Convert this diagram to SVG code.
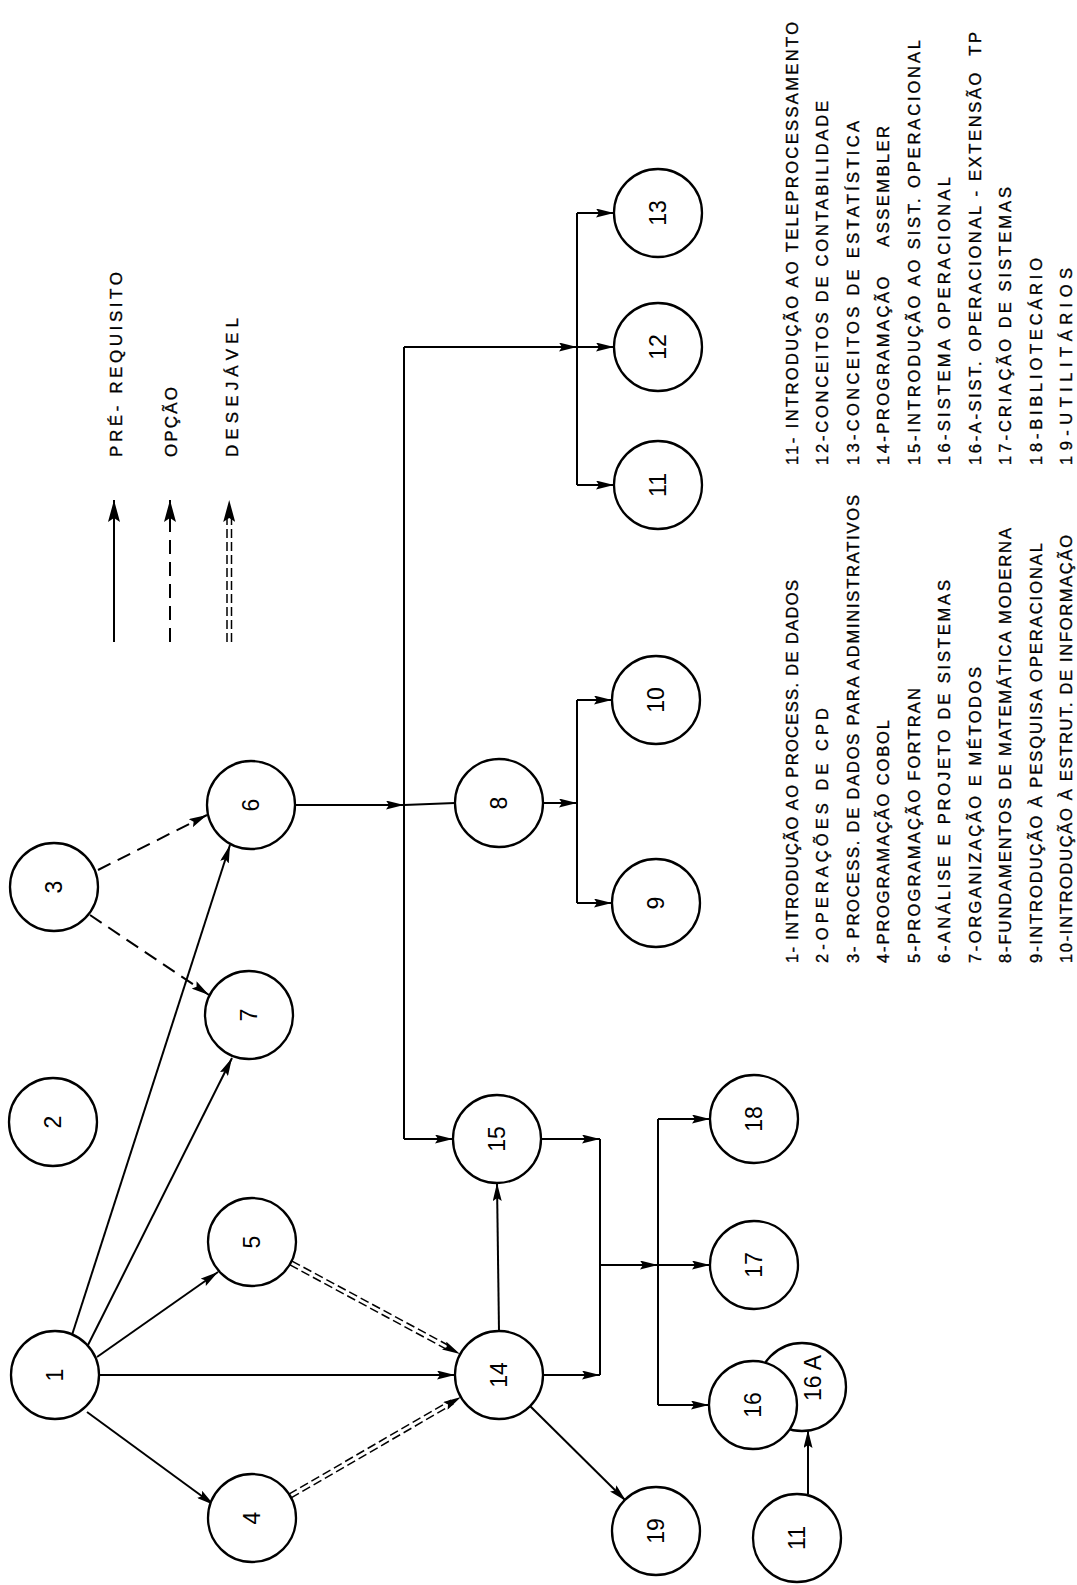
<svg xmlns="http://www.w3.org/2000/svg" width="1077" height="1585" viewBox="0 0 1077 1585">
<style>
.bg{fill:#fff}
.n{fill:#fff;stroke:#000;stroke-width:2.3}
.nl{font-family:"Liberation Sans",Arial,sans-serif;font-size:23px;text-anchor:middle;fill:#000}
.c{fill:none;stroke:#000;stroke-width:2}
.d{fill:none;stroke:#000;stroke-width:2;stroke-dasharray:14 8}
.dd{fill:none;stroke:#000;stroke-width:1.5;stroke-dasharray:9 4}
.m{fill:none;stroke:none}
.lst{font-family:"Liberation Sans",Arial,sans-serif;font-size:16.5px;fill:#000;stroke:#000;stroke-width:0.35}
.lg{font-family:"Liberation Sans",Arial,sans-serif;font-size:17px;fill:#000;stroke:#000;stroke-width:0.35}
</style>
<defs>
<marker id="a" viewBox="0 0 18 9" markerWidth="18" markerHeight="9" refX="18" refY="4.5" orient="auto" markerUnits="userSpaceOnUse"><path d="M0,0 L18,4.5 L0,9 L3,4.5 Z" fill="#000"/></marker>
<marker id="b" viewBox="0 0 22 12" markerWidth="22" markerHeight="12" refX="22" refY="6" orient="auto" markerUnits="userSpaceOnUse"><path d="M0,0 L22,6 L0,12 L4,6 Z" fill="#000"/></marker>
</defs>
<rect class="bg" x="0" y="0" width="1077" height="1585"/>

<g id="connectors">
<path class="c" marker-end="url(#a)" d="M72,1335 L230,845"/>
<path class="c" marker-end="url(#a)" d="M88,1345 L232,1058"/>
<path class="c" marker-end="url(#a)" d="M97,1357 L218,1272"/>
<path class="c" marker-end="url(#a)" d="M87,1412 L214,1505"/>
<path class="c" marker-end="url(#a)" d="M99,1375 L455,1375"/>
<path class="c" marker-end="url(#a)" d="M499,1331 L497,1183"/>
<path class="c" marker-end="url(#a)" d="M530,1406 L626,1501"/>
<path class="c" marker-end="url(#a)" d="M543,1375 L600,1375"/>
<path class="c" marker-end="url(#a)" d="M541,1139 L600,1139"/>
<path class="c" d="M600,1139 L600,1375"/>
<path class="c" marker-end="url(#a)" d="M600,1265 L658,1265"/>
<path class="c" marker-end="url(#a)" d="M658,1265 L710,1265"/>
<path class="c" d="M658,1119 L658,1405"/>
<path class="c" marker-end="url(#a)" d="M658,1119 L710,1119"/>
<path class="c" marker-end="url(#a)" d="M658,1405 L709,1405"/>
<path class="c" marker-end="url(#a)" d="M295,805 L404,805"/>
<path class="c" d="M404,805 L455,803"/>
<path class="c" d="M404,347 L404,1139"/>
<path class="c" marker-end="url(#a)" d="M404,1139 L453,1139"/>
<path class="c" marker-end="url(#a)" d="M404,347 L577,347"/>
<path class="c" marker-end="url(#a)" d="M577,347 L614,347"/>
<path class="c" d="M577,213 L577,485"/>
<path class="c" marker-end="url(#a)" d="M577,213 L614,213"/>
<path class="c" marker-end="url(#a)" d="M577,485 L614,485"/>
<path class="c" marker-end="url(#a)" d="M543,803 L577,803"/>
<path class="c" d="M577,700 L577,903"/>
<path class="c" marker-end="url(#a)" d="M577,700 L612,700"/>
<path class="c" marker-end="url(#a)" d="M577,903 L612,903"/>
<path class="c" marker-end="url(#a)" d="M808,1494 L808,1430"/>
<path class="d" marker-end="url(#a)" d="M98,870 L207,815"/>
<path class="d" marker-end="url(#a)" d="M90,915 L209,995"/>
<path class="dd" d="M290,1264.9 L450.2,1351.2"/>
<path class="dd" d="M292,1261.1 L452.2,1347.4"/>
<path class="m" marker-end="url(#a)" d="M451,1349.2 L460,1354"/>
<path class="dd" d="M291.1,1497.9 L453.4,1403.9"/>
<path class="dd" d="M288.9,1494.1 L451.2,1400.1"/>
<path class="m" marker-end="url(#a)" d="M452.3,1402 L461,1397"/>
</g>

<g id="legend">
<path class="c" marker-end="url(#b)" d="M114,642 L114,500"/>
<path class="d" marker-end="url(#b)" d="M170,642 L170,500"/>
<path class="dd" d="M227,642 L227,514"/>
<path class="dd" d="M231.5,642 L231.5,514"/>
<path class="m" marker-end="url(#b)" d="M229.2,512 L229.2,500"/>
<text class="lg" transform="translate(122,457) rotate(-90)" textLength="185" lengthAdjust="spacing">PRÉ- REQUISITO</text>
<text class="lg" transform="translate(177,457) rotate(-90)" textLength="70" lengthAdjust="spacing">OPÇÃO</text>
<text class="lg" transform="translate(238,457) rotate(-90)" textLength="139" lengthAdjust="spacing">DESEJÁVEL</text>
</g>

<g id="n1"><circle class="n" cx="55" cy="1375" r="44"/><text class="nl" transform="translate(55,1375) rotate(-90)" dy="0.36em">1</text></g>
<g id="n2"><circle class="n" cx="53" cy="1122" r="44"/><text class="nl" transform="translate(53,1122) rotate(-90)" dy="0.36em">2</text></g>
<g id="n3"><circle class="n" cx="54" cy="887" r="44"/><text class="nl" transform="translate(54,887) rotate(-90)" dy="0.36em">3</text></g>
<g id="n4"><circle class="n" cx="252" cy="1518" r="44"/><text class="nl" transform="translate(252,1518) rotate(-90)" dy="0.36em">4</text></g>
<g id="n5"><circle class="n" cx="252" cy="1242" r="44"/><text class="nl" transform="translate(252,1242) rotate(-90)" dy="0.36em">5</text></g>
<g id="n6"><circle class="n" cx="251" cy="805" r="44"/><text class="nl" transform="translate(251,805) rotate(-90)" dy="0.36em">6</text></g>
<g id="n7"><circle class="n" cx="249" cy="1015" r="44"/><text class="nl" transform="translate(249,1015) rotate(-90)" dy="0.36em">7</text></g>
<g id="n8"><circle class="n" cx="499" cy="803" r="44"/><text class="nl" transform="translate(499,803) rotate(-90)" dy="0.36em">8</text></g>
<g id="n9"><circle class="n" cx="656" cy="903" r="44"/><text class="nl" transform="translate(656,903) rotate(-90)" dy="0.36em">9</text></g>
<g id="n10"><circle class="n" cx="656" cy="700" r="44"/><text class="nl" transform="translate(656,700) rotate(-90)" dy="0.36em">10</text></g>
<g id="n11"><circle class="n" cx="658" cy="485" r="44"/><text class="nl" transform="translate(658,485) rotate(-90)" dy="0.36em">11</text></g>
<g id="n12"><circle class="n" cx="658" cy="347" r="44"/><text class="nl" transform="translate(658,347) rotate(-90)" dy="0.36em">12</text></g>
<g id="n13"><circle class="n" cx="658" cy="213" r="44"/><text class="nl" transform="translate(658,213) rotate(-90)" dy="0.36em">13</text></g>
<g id="n14"><circle class="n" cx="499" cy="1375" r="44"/><text class="nl" transform="translate(499,1375) rotate(-90)" dy="0.36em">14</text></g>
<g id="n15"><circle class="n" cx="497" cy="1139" r="44"/><text class="nl" transform="translate(497,1139) rotate(-90)" dy="0.36em">15</text></g>
<g id="n16a"><circle class="n" cx="802" cy="1387" r="44"/><text class="nl" transform="translate(813,1378) rotate(-90)" dy="0.36em">16 A</text></g>
<g id="n16"><circle class="n" cx="753" cy="1405" r="44"/><text class="nl" transform="translate(753,1405) rotate(-90)" dy="0.36em">16</text></g>
<g id="n17"><circle class="n" cx="754" cy="1265" r="44"/><text class="nl" transform="translate(754,1265) rotate(-90)" dy="0.36em">17</text></g>
<g id="n18"><circle class="n" cx="754" cy="1119" r="44"/><text class="nl" transform="translate(754,1119) rotate(-90)" dy="0.36em">18</text></g>
<g id="n19"><circle class="n" cx="656" cy="1531" r="44"/><text class="nl" transform="translate(656,1531) rotate(-90)" dy="0.36em">19</text></g>
<g id="n11b"><circle class="n" cx="797" cy="1538" r="44"/><text class="nl" transform="translate(797,1538) rotate(-90)" dy="0.36em">11</text></g>

<g id="list1">
<text class="lst" transform="translate(797.5,963) rotate(-90)" textLength="383" lengthAdjust="spacing">1- INTRODUÇÃO AO PROCESS. DE DADOS</text>
<text class="lst" transform="translate(828,963) rotate(-90)" textLength="255" lengthAdjust="spacing">2-OPERAÇÕES DE CPD</text>
<text class="lst" transform="translate(858.5,963) rotate(-90)" textLength="468" lengthAdjust="spacing">3- PROCESS. DE DADOS PARA ADMINISTRATIVOS</text>
<text class="lst" transform="translate(889,963) rotate(-90)" textLength="243" lengthAdjust="spacing">4-PROGRAMAÇÃO COBOL</text>
<text class="lst" transform="translate(919.5,963) rotate(-90)" textLength="275" lengthAdjust="spacing">5-PROGRAMAÇÃO FORTRAN</text>
<text class="lst" transform="translate(950,963) rotate(-90)" textLength="383" lengthAdjust="spacing">6-ANÁLISE E PROJETO DE SISTEMAS</text>
<text class="lst" transform="translate(980.5,963) rotate(-90)" textLength="296" lengthAdjust="spacing">7-ORGANIZAÇÃO E MÉTODOS</text>
<text class="lst" transform="translate(1011,963) rotate(-90)" textLength="435" lengthAdjust="spacing">8-FUNDAMENTOS DE MATEMÁTICA MODERNA</text>
<text class="lst" transform="translate(1041.5,963) rotate(-90)" textLength="420" lengthAdjust="spacing">9-INTRODUÇÃO À PESQUISA OPERACIONAL</text>
<text class="lst" transform="translate(1072,963) rotate(-90)" textLength="428" lengthAdjust="spacing">10-INTRODUÇÃO À ESTRUT. DE INFORMAÇÃO</text>
</g>
<g id="list2">
<text class="lst" transform="translate(797.5,465) rotate(-90)" textLength="443" lengthAdjust="spacing">11- INTRODUÇÃO AO TELEPROCESSAMENTO</text>
<text class="lst" transform="translate(828,465) rotate(-90)" textLength="364" lengthAdjust="spacing">12-CONCEITOS DE CONTABILIDADE</text>
<text class="lst" transform="translate(858.5,465) rotate(-90)" textLength="344" lengthAdjust="spacing">13-CONCEITOS DE ESTATÍSTICA</text>
<text class="lst" transform="translate(889,465) rotate(-90)" textLength="339" lengthAdjust="spacing" xml:space="preserve">14-PROGRAMAÇÃO    ASSEMBLER</text>
<text class="lst" transform="translate(919.5,465) rotate(-90)" textLength="425" lengthAdjust="spacing">15-INTRODUÇÃO AO SIST. OPERACIONAL</text>
<text class="lst" transform="translate(950,465) rotate(-90)" textLength="288" lengthAdjust="spacing">16-SISTEMA OPERACIONAL</text>
<text class="lst" transform="translate(980.5,465) rotate(-90)" textLength="433" lengthAdjust="spacing" xml:space="preserve">16-A-SIST. OPERACIONAL - EXTENSÃO  TP</text>
<text class="lst" transform="translate(1011,465) rotate(-90)" textLength="278" lengthAdjust="spacing">17-CRIAÇÃO DE SISTEMAS</text>
<text class="lst" transform="translate(1041.5,465) rotate(-90)" textLength="207" lengthAdjust="spacing">18-BIBLIOTECÁRIO</text>
<text class="lst" transform="translate(1072,465) rotate(-90)" textLength="197" lengthAdjust="spacing">19-UTILITÁRIOS</text>
</g>
</svg>
